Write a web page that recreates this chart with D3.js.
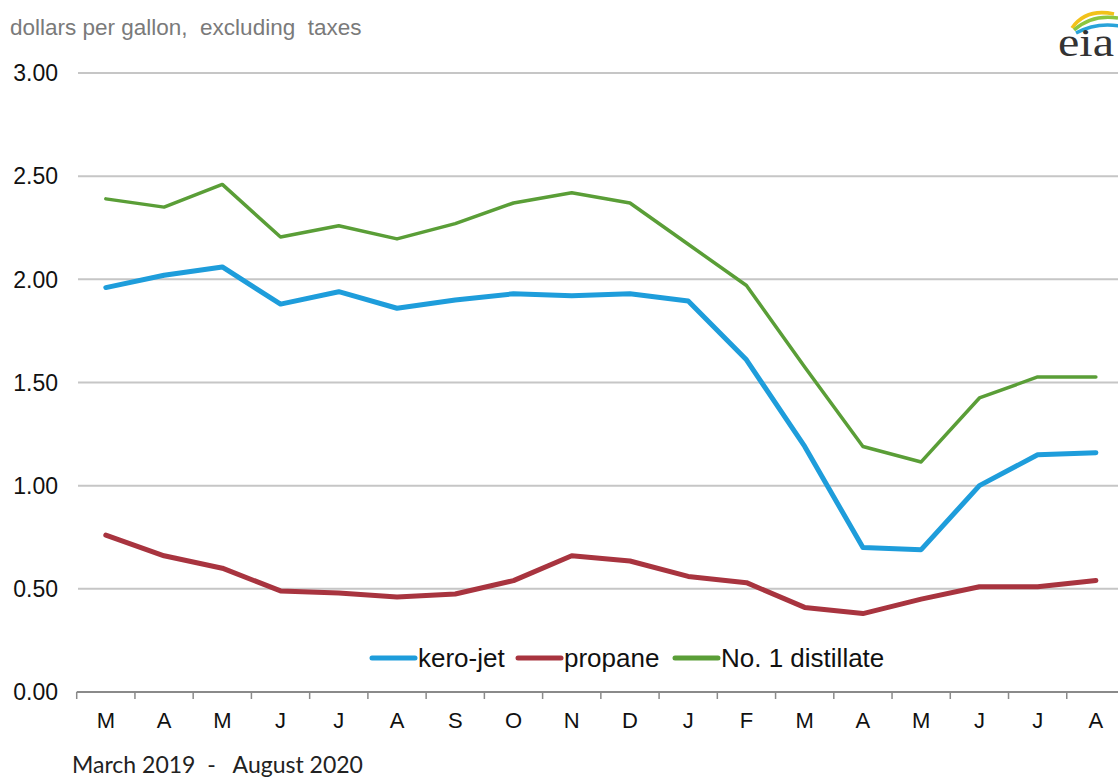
<!DOCTYPE html>
<html><head><meta charset="utf-8">
<script src="https://cdn.jsdelivr.net/npm/d3@7"></script>
<style>body{margin:0;background:#fff}svg{display:block}</style>
</head><body>
<script>
const months = ["M","A","M","J","J","A","S","O","N","D","J","F","M","A","M","J","J","A"];
const keroJet = [1.96,2.02,2.06,1.88,1.94,1.86,1.90,1.93,1.92,1.93,1.895,1.61,1.19,0.70,0.69,1.00,1.15,1.16];
const propane = [0.76,0.66,0.60,0.49,0.48,0.46,0.475,0.54,0.66,0.635,0.56,0.53,0.41,0.38,0.45,0.51,0.51,0.54];
const distillate = [2.39,2.35,2.46,2.205,2.26,2.196,2.27,2.37,2.42,2.37,2.17,1.97,1.575,1.19,1.115,1.425,1.527,1.527];
const yTicks = [0,0.5,1,1.5,2,2.5,3];
const seriesNames = ["kero-jet","propane","No. 1 distillate"];
const seriesColors = ["#1e9ddb","#a8343f","#5a9e37"];
const seriesWidths = [5,5,3.5];

const W=1118,H=778;
const FONT="Liberation Sans, Arial, sans-serif";
const svg=d3.select("body").append("svg").attr("width",W).attr("height",H);
const x=d3.scaleBand().domain(d3.range(months.length)).range([76.7,1125]);
const y=d3.scaleLinear().domain([0,3]).range([692,73]);

// gridlines
svg.append("g").selectAll("line").data(yTicks.filter(d=>d>0)).join("line")
  .attr("x1",78).attr("x2",W).attr("y1",d=>y(d)).attr("y2",d=>y(d))
  .attr("stroke","#c6c6c6").attr("stroke-width",2);

// y labels
svg.append("g").selectAll("text").data(yTicks).join("text")
  .attr("x",58).attr("y",d=>y(d)).attr("dy","0.36em").attr("text-anchor","end")
  .attr("font-family",FONT).attr("font-size",23).attr("fill","#111")
  .text(d=>d3.format(".2f")(d));

// x axis
const xa=svg.append("g").attr("transform","translate(0,692)");
xa.append("line").attr("x1",76.7).attr("x2",W).attr("stroke","#8a8a8a").attr("stroke-width",2);
xa.selectAll("line.t").data(d3.range(months.length)).join("line").attr("class","t")
  .attr("x1",d=>x(d)).attr("x2",d=>x(d)).attr("y1",0).attr("y2",7)
  .attr("stroke","#8a8a8a").attr("stroke-width",1.5);
xa.selectAll("text").data(months).join("text")
  .attr("x",(d,i)=>x(i)+x.bandwidth()/2).attr("y",36).attr("text-anchor","middle")
  .attr("font-family",FONT).attr("font-size",22).attr("fill","#111")
  .text(d=>d);

// lines
const allSeries=[keroJet,propane,distillate];
const line=d3.line().x((d,i)=>x(i)+x.bandwidth()/2).y(d=>y(d));
[2,0,1].forEach(k=>{
  svg.append("path").datum(allSeries[k]).attr("d",line).attr("fill","none")
    .attr("stroke",seriesColors[k]).attr("stroke-width",seriesWidths[k])
    .attr("stroke-linejoin","round").attr("stroke-linecap","round");
});

// legend
const legX=[372,518,675];
seriesNames.forEach((n,k)=>{
  const g=svg.append("g").attr("transform",`translate(${legX[k]},658)`);
  g.append("line").attr("x1",0).attr("x2",43).attr("stroke",seriesColors[k]).attr("stroke-width",5).attr("stroke-linecap","round");
  g.append("text").attr("x",46).attr("dy","0.36em").attr("font-family",FONT)
    .attr("font-size",26).attr("fill","#111").text(n);
});

// titles
svg.append("text").attr("x",10).attr("y",35).attr("font-family",FONT)
  .attr("font-size",22.5).attr("fill","#7a7a7a").attr("xml:space","preserve").style("white-space","pre")
  .text("dollars per gallon,  excluding  taxes");
svg.append("text").attr("x",72).attr("y",773).attr("font-family","Lato, 'Open Sans', sans-serif")
  .attr("font-size",23).attr("fill","#222").attr("xml:space","preserve").style("white-space","pre").text("March 2019  -   August 2020");

// eia logo
const lg=svg.append("g").attr("transform","translate(1058,6)");
lg.append("path").attr("d","M14,22 Q28,2 56,8").attr("fill","none").attr("stroke","#f2c21a").attr("stroke-width",3.5);
lg.append("path").attr("d","M16,24 Q34,8 60,12").attr("fill","none").attr("stroke","#8cc63f").attr("stroke-width",3.5);
lg.append("path").attr("d","M18,27 Q38,16 62,20").attr("fill","none").attr("stroke","#29a3d9").attr("stroke-width",3.5);
lg.append("text").attr("x",0).attr("y",50).attr("font-family","Liberation Serif, serif").attr("font-size",40)
  .attr("fill","#333").attr("textLength",56).attr("lengthAdjust","spacingAndGlyphs").text("eia");
</script>
</body></html>
